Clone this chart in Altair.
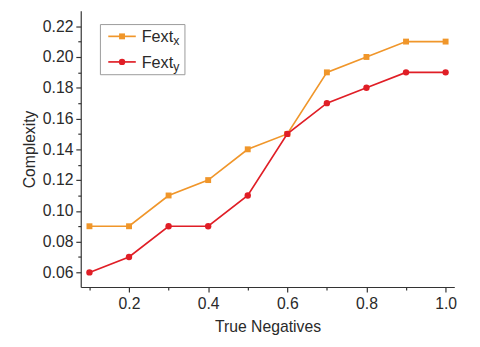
import altair as alt
import pandas as pd

# ---- data ----
true_neg = [0.1, 0.2, 0.3, 0.4, 0.5, 0.6, 0.7, 0.8, 0.9, 1.0]
fext_x = [0.09, 0.09, 0.11, 0.12, 0.14, 0.15, 0.19, 0.20, 0.21, 0.21]
fext_y = [0.06, 0.07, 0.09, 0.09, 0.11, 0.15, 0.17, 0.18, 0.19, 0.19]
series_names = ["Fext_x", "Fext_y"]
legend_main = ["Fext", "Fext"]
legend_sub = ["x", "y"]
x_major = [0.2, 0.4, 0.6, 0.8, 1.0]
x_minor = [0.1, 0.3, 0.5, 0.7, 0.9]
y_major = [0.06, 0.08, 0.10, 0.12, 0.14, 0.16, 0.18, 0.20, 0.22]
y_minor = [0.07, 0.09, 0.11, 0.13, 0.15, 0.17, 0.19, 0.21]

ORANGE = "#F0962A"
RED = "#E01E26"
FONT = "Liberation Sans"
AX = "#333333"

df = pd.DataFrame({
    "tn": true_neg * 2,
    "val": fext_x + fext_y,
    "series": [series_names[0]] * len(true_neg) + [series_names[1]] * len(true_neg),
})

xscale = alt.Scale(domain=[0.078, 1.022], nice=False, zero=False)
yscale = alt.Scale(domain=[0.0505, 0.23], nice=False, zero=False)

major_x = alt.Axis(values=x_major, format=".1f", title="True Negatives", grid=False,
                   orient="bottom", tickSize=5, labelPadding=4, titlePadding=7)
major_y = alt.Axis(values=y_major, format=".2f", title="Complexity", grid=False,
                   orient="left", tickSize=5, labelPadding=3, titlePadding=5)
minor_x = alt.Axis(values=x_minor, labels=False, domain=False, title=None, grid=False,
                   orient="bottom", tickSize=3)
minor_y = alt.Axis(values=y_minor, labels=False, domain=False, title=None, grid=False,
                   orient="left", tickSize=3)

axes_major = alt.Chart(df).mark_point(opacity=0).encode(
    x=alt.X("tn:Q", scale=xscale, axis=major_x),
    y=alt.Y("val:Q", scale=yscale, axis=major_y),
)
axes_minor = alt.Chart(df).mark_point(opacity=0).encode(
    x=alt.X("tn:Q", scale=xscale, axis=minor_x),
    y=alt.Y("val:Q", scale=yscale, axis=minor_y),
)


def series_layers(name, color, shape, size):
    b = alt.Chart(df).transform_filter(alt.datum.series == name)
    enc = dict(x=alt.X("tn:Q", scale=xscale, axis=None),
               y=alt.Y("val:Q", scale=yscale, axis=None))
    line = b.mark_line(color=color, strokeWidth=1.7).encode(**enc)
    pts = b.mark_point(shape=shape, filled=True, color=color, size=size, opacity=1).encode(**enc)
    return [line, pts]


one = pd.DataFrame({"a": [0]})
legend_box = alt.Chart(one).mark_rect(fill="white", stroke="#9a9a9a", strokeWidth=1).encode(
    x=alt.value(20), x2=alt.value(106), y=alt.value(14), y2=alt.value(65))


def legend_entry(i, color, shape, size, ly):
    rule = alt.Chart(one).mark_rule(color=color, strokeWidth=1.7).encode(
        x=alt.value(28), x2=alt.value(56), y=alt.value(ly))
    mk = alt.Chart(one).mark_point(shape=shape, filled=True, color=color, size=size, opacity=1).encode(
        x=alt.value(42), y=alt.value(ly))
    t1 = alt.Chart(pd.DataFrame({"t": [legend_main[i]]})).mark_text(
        align="left", baseline="alphabetic", font=FONT, fontSize=16.5, color="#2a2a2a").encode(
        x=alt.value(62), y=alt.value(ly + 6), text="t:N")
    t2 = alt.Chart(pd.DataFrame({"t": [legend_sub[i]]})).mark_text(
        align="left", baseline="alphabetic", font=FONT, fontSize=12.5, color="#2a2a2a").encode(
        x=alt.value(94), y=alt.value(ly + 9), text="t:N")
    return [rule, mk, t1, t2]


layers = [axes_major, axes_minor]
layers += series_layers(series_names[0], ORANGE, "square", 36)
layers += series_layers(series_names[1], RED, "circle", 42)
layers += [legend_box]
layers += legend_entry(0, ORANGE, "square", 36, 26)
layers += legend_entry(1, RED, "circle", 42, 52)

chart = alt.layer(*layers).resolve_axis(x="independent", y="independent").properties(
    width=380, height=281,
    autosize=alt.AutoSizeParams(type="none"),
    padding={"left": 74, "top": 0, "right": 18, "bottom": 50},
).configure_view(stroke=None).configure_axis(
    domainColor=AX, tickColor=AX, domainWidth=1.2, tickWidth=1.2,
    labelFont=FONT, labelFontSize=16, labelColor="#2a2a2a",
    titleFont=FONT, titleFontSize=16, titleFontWeight="normal", titleColor="#2a2a2a",
)

chart.save("out.html", embed_options={"renderer": "svg", "actions": False})
